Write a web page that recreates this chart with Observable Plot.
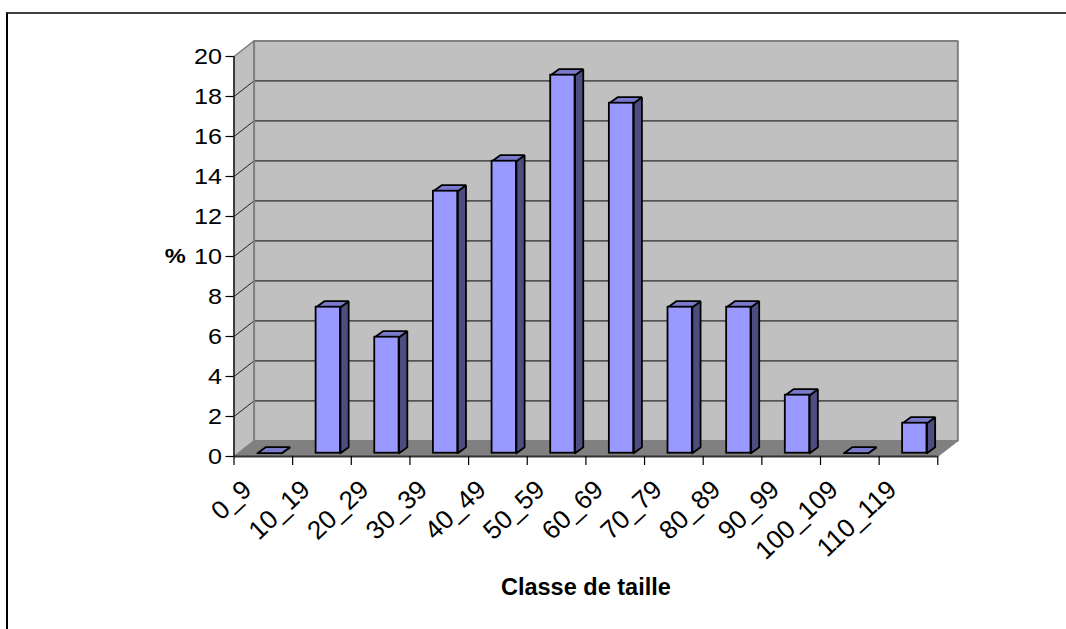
<!DOCTYPE html>
<html>
<head>
<meta charset="utf-8">
<script src="https://cdn.jsdelivr.net/npm/d3@7"></script>
<script src="https://cdn.jsdelivr.net/npm/@observablehq/plot@0.6"></script>
<style>
html,body{margin:0;padding:0;background:#fff;overflow:hidden}
#wrap{position:relative;width:1066px;height:629px}
#wrap svg{position:absolute;left:0;top:0}
#frame{position:absolute;left:6px;top:12px;right:-4px;bottom:-4px;border-top:2px solid #404040;border-left:2px solid #000}
</style>
</head>
<body>
<div id="wrap"><div id="frame"></div></div>
<script>
const categories = ["0_9","10_19","20_29","30_39","40_49","50_59","60_69","70_79","80_89","90_99","100_109","110_119"];
const values = [0,7.3,5.8,13.1,14.6,18.9,17.5,7.3,7.3,2.9,0,1.5];
const yTicks = [0,2,4,6,8,10,12,14,16,18,20];
const yMax = 20;

// 3-D projection in data units
const wallX = 0.342, wallY = 0.78;
const barStart = 0.40, barEnd = 0.815, barBaseY = 0.165, barDepthX = 0.14, barDepthY = 0.3;
const n = categories.length;

const poly = (id, pts) => [...pts, pts[0]].map(([x, y]) => ({id, x, y}));
const bars = categories.map((c, i) => ({c, v: values[i], x1: i + barStart, x2: i + barEnd, y1: barBaseY, y2: barBaseY + values[i]}));
const sides = bars.flatMap((b, i) => poly(i, [[b.x2,b.y1],[b.x2+barDepthX,b.y1+barDepthY],[b.x2+barDepthX,b.y2+barDepthY],[b.x2,b.y2]]));
const tops = bars.flatMap((b, i) => poly(i, [[b.x1,b.y2],[b.x1+barDepthX,b.y2+barDepthY],[b.x2+barDepthX,b.y2+barDepthY],[b.x2,b.y2]]));

const leftWall = poly("l", [[0,0],[wallX,wallY],[wallX,yMax+wallY],[0,yMax]]);
const floor = poly("f", [[0,0],[n,0],[n+wallX,wallY],[wallX,wallY]]);
const backWall = poly("b", [[wallX,wallY],[n+wallX,wallY],[n+wallX,yMax+wallY],[wallX,yMax+wallY]]);

const plot = Plot.plot({
  width: 1066, height: 629,
  marginLeft: 233.5, marginRight: 128.7, marginTop: 56, marginBottom: 173,
  style: {fontFamily: "'Liberation Sans', Arial, sans-serif", background: "transparent", color: "#000", overflow: "visible"},
  x: {type: "linear", domain: [0, n]},
  y: {type: "linear", domain: [0, yMax]},
  marks: [
    Plot.line(backWall, {x:"x", y:"y", z:"id", fill:"#c0c0c0", stroke:"#808080", strokeWidth:2, strokeLinejoin:"miter"}),
    Plot.line(leftWall, {x:"x", y:"y", z:"id", fill:"#c0c0c0", stroke:"#808080", strokeWidth:1.5, strokeLinejoin:"miter"}),
    Plot.line(floor, {x:"x", y:"y", z:"id", fill:"#808080", stroke:"#808080", strokeWidth:1}),
    Plot.ruleY(yTicks.filter(t => t > 0 && t < yMax), {y: t => t + wallY, x1: wallX, x2: n + wallX, stroke:"#555", strokeWidth:1.6}),
    Plot.link(yTicks.filter(t => t > 0 && t < yMax), {x1: 0, y1: t => t, x2: wallX, y2: t => t + wallY, stroke:"#222", strokeWidth:1}),
    Plot.ruleX([wallX], {y1: 0 + wallY, y2: yMax + wallY, stroke:"#808080", strokeWidth:2}),
    Plot.line(sides, {x:"x", y:"y", z:"id", fill:"#4d4d80", stroke:"#000", strokeWidth:1.8, strokeLinejoin:"miter"}),
    Plot.line(tops, {x:"x", y:"y", z:"id", fill:"#7a7acc", stroke:"#000", strokeWidth:1.8, strokeLinejoin:"miter"}),
    Plot.rect(bars, {x1:"x1", x2:"x2", y1:"y1", y2:"y2", fill:"#9999ff", stroke:"#000", strokeWidth:1.8, inset:0}),
    Plot.ruleY([0], {stroke:"#333", strokeWidth:2}),
    Plot.ruleX([0], {y1: 0, y2: yMax, stroke:"#000", strokeWidth:1.2}),
    Plot.axisY({ticks: yTicks, tickSize: 8, tickPadding: 4, fontSize: 22, label: null, strokeWidth: 1.2, stroke:"#000"}),
    Plot.axisX({ticks: d3.range(n + 1), tickSize: 9, tickFormat: () => "", label: null, stroke:"#000", strokeWidth: 1.2}),
    Plot.text(categories, {x: (d, i) => i + 0.5, y: 0, text: d => d, dx: -16, dy: 29, rotate: -43, textAnchor: "end", lineAnchor: "middle", fontSize: 26, fill:"#000"}),
    Plot.text(["%"], {x: -1, y: 10, text: d => d, fontWeight: "bold", fontSize: 21, fill:"#000"}),
    Plot.text(["Classe de taille"], {x: 6, y: -6.55, text: d => d, fontWeight: "bold", fontSize: 23, fill:"#000"})
  ]
});
document.getElementById("wrap").appendChild(plot);
// the reference's upright digits are stretched horizontally: widen them
d3.select(plot).selectAll("g[aria-label='y-axis tick label'] text").each(function() {
  d3.select(this).attr("textLength", this.textContent.length * 14).attr("lengthAdjust", "spacingAndGlyphs");
});
d3.select(plot).selectAll("text").filter(function() { return this.textContent === "Classe de taille"; })
  .attr("textLength", 170).attr("lengthAdjust", "spacingAndGlyphs");
d3.select(plot).selectAll("text").filter(function() { return this.textContent === "%"; })
  .attr("textLength", 21).attr("lengthAdjust", "spacingAndGlyphs");
</script>
</body>
</html>
